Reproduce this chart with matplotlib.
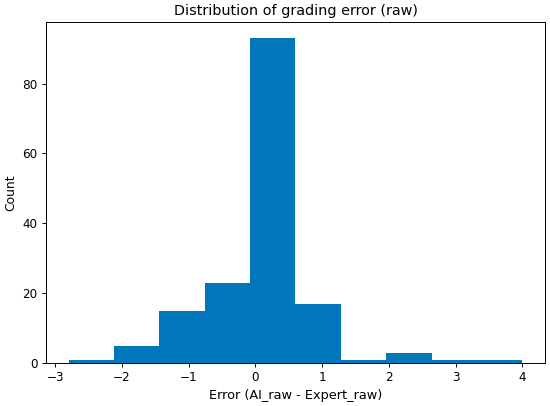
import matplotlib
matplotlib.use("Agg")
import matplotlib.pyplot as plt
import numpy as np

bin_edges = [-2.8, -2.12, -1.44, -0.76, -0.08, 0.6, 1.28, 1.96, 2.64, 3.32, 4.0]
counts = [1, 5, 15, 23, 93, 17, 1, 3, 1, 1]

centers = [(a + b) / 2 for a, b in zip(bin_edges[:-1], bin_edges[1:])]

dpi = 86
fig, ax = plt.subplots(figsize=(550 / dpi, 406 / dpi), dpi=dpi)
ax.hist(centers, bins=bin_edges, weights=counts, color="#0077bb")
ax.set_title("Distribution of grading error (raw)")
ax.set_xlabel("Error (AI_raw - Expert_raw)", fontsize=10.8)
ax.set_ylabel("Count", fontsize=10.4)
fig.subplots_adjust(left=46 / 550, right=545 / 550, top=1 - 22 / 406, bottom=1 - 363 / 406)
fig.savefig("out.png", dpi=dpi)
